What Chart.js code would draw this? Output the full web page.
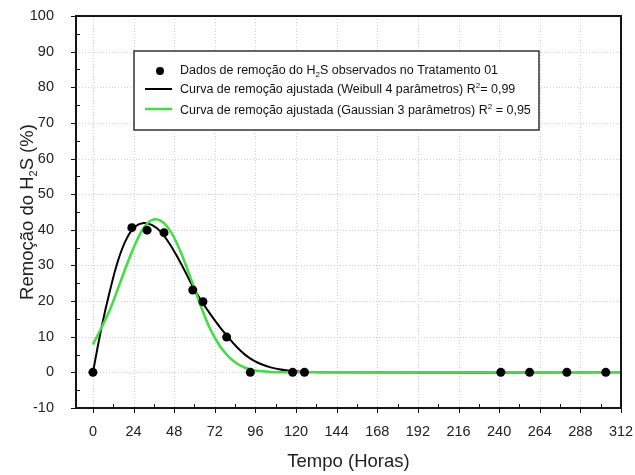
<!DOCTYPE html>
<html><head><meta charset="utf-8">
<script src="https://cdn.jsdelivr.net/npm/chart.js@4/dist/chart.umd.min.js"></script>
<style>html,body{margin:0;padding:0;background:#fff}#wrap{width:635px;height:475px;position:relative}</style>
</head><body><div id="wrap"><canvas id="c"></canvas></div>
<script>
// Observed data (Tratamento 01)
const obsTimes   = [0, 23, 32, 42, 59, 65, 79, 93, 118, 125, 241, 258, 280, 303];
const obsRemoval = [0, 40.6, 39.9, 39.2, 23.1, 19.8, 9.9, 0, 0, 0, 0, 0, 0, 0];

// Fitted curve: Weibull 4 parameters
const weibullTimes  = [0, 5, 10, 15, 20, 25, 30, 35, 40, 45, 50, 55, 60, 65, 70, 75, 80, 85, 90, 95, 100, 105, 110, 115, 120, 125, 130, 135, 140, 312];
const weibullValues = [0, 12.4, 22.8, 31.6, 37.6, 40.9, 41.9, 41.3, 39.5, 36.3, 32.3, 27.8, 23.2, 19.4, 15.9, 12.7, 9.8, 7.1, 4.9, 3.3, 2.2, 1.4, 0.85, 0.5, 0.28, 0.15, 0.07, 0.03, 0, 0];

// Fitted curve: Gaussian 3 parameters
const gaussTimes  = [0, 5, 10, 15, 20, 25, 30, 35, 40, 45, 50, 55, 60, 65, 70, 75, 80, 85, 90, 95, 100, 105, 110, 115, 120, 312];
const gaussValues = [7.8, 12.5, 17.6, 23.8, 30.2, 36.0, 40.6, 42.8, 42.6, 40.2, 35.8, 30.0, 23.5, 17.0, 11.5, 7.4, 4.5, 2.5, 1.3, 0.6, 0.3, 0.12, 0.05, 0.02, 0, 0];

const xTickValues = [0, 24, 48, 72, 96, 120, 144, 168, 192, 216, 240, 264, 288, 312];
const yTickValues = [-10, 0, 10, 20, 30, 40, 50, 60, 70, 80, 90, 100];
const xMinorValues = [12, 36, 60, 84, 108, 132, 156, 180, 204, 228, 252, 276, 300];
const yMinorValues = [-5, 5, 15, 25, 35, 45, 55, 65, 75, 85, 95];

const legendLabels = [
  [{t:'Dados de remoção do H'},{t:'2',sub:true},{t:'S observados no Tratamento 01'}],
  [{t:'Curva de remoção ajustada (Weibull 4 parâmetros) R'},{t:'2',sup:true},{t:'= 0,99'}],
  [{t:'Curva de remoção ajustada (Gaussian 3 parâmetros) R'},{t:'2',sup:true},{t:' = 0,95'}]
];
const yTitle = [{t:'Remoção do H'},{t:'2',sub:true},{t:'S (%)'}];
const xTitle = 'Tempo (Horas)';

const FONT = '"Liberation Sans", Arial, sans-serif';
const GREEN = 'rgb(64,222,64)';
Chart.defaults.font.family = FONT;

function pts(xs, ys){ return xs.map((x,i)=>({x:x, y:ys[i]})); }

function richWidth(ctx, parts, size){
  let w = 0;
  parts.forEach(p=>{ ctx.font = ((p.sub||p.sup)? Math.round(size*0.62):size)+'px '+FONT; w += ctx.measureText(p.t).width; });
  return w;
}
function drawRich(ctx, parts, x, y, size){
  ctx.textBaseline = 'middle'; ctx.textAlign = 'left';
  parts.forEach(p=>{
    let dy = 0, s = size;
    if (p.sub){ s = Math.round(size*0.62); dy = size*0.32; }
    if (p.sup){ s = Math.round(size*0.62); dy = -size*0.36; }
    ctx.font = s+'px '+FONT;
    ctx.fillText(p.t, x, y+dy);
    x += ctx.measureText(p.t).width;
  });
}

const decor = {
  id:'decor',
  beforeDatasetsDraw(chart){
    const {ctx, chartArea:a, scales:{x,y}} = chart;
    ctx.save();
    ctx.strokeStyle = '#cfcfcf'; ctx.lineWidth = 1; ctx.setLineDash([1,2]);
    xTickValues.forEach(v=>{ const px = Math.round(x.getPixelForValue(v))+0.5; ctx.beginPath(); ctx.moveTo(px,a.top); ctx.lineTo(px,a.bottom); ctx.stroke(); });
    yTickValues.forEach(v=>{ const py = Math.round(y.getPixelForValue(v))+0.5; ctx.beginPath(); ctx.moveTo(a.left,py); ctx.lineTo(a.right,py); ctx.stroke(); });
    ctx.restore();
  },
  afterDraw(chart){
    const {ctx, chartArea:a, scales:{x,y}} = chart;
    ctx.save();
    ctx.strokeStyle = '#111'; ctx.lineWidth = 1;
    xTickValues.forEach(v=>{ const px = Math.round(x.getPixelForValue(v))+0.5; ctx.beginPath(); ctx.moveTo(px,a.bottom); ctx.lineTo(px,a.bottom+5); ctx.stroke(); });
    yTickValues.forEach(v=>{ const py = Math.round(y.getPixelForValue(v))+0.5; ctx.beginPath(); ctx.moveTo(a.left-5,py); ctx.lineTo(a.left,py); ctx.stroke(); });
    xMinorValues.forEach(v=>{ const px = Math.round(x.getPixelForValue(v))+0.5; ctx.beginPath(); ctx.moveTo(px,a.bottom); ctx.lineTo(px,a.bottom-4); ctx.stroke(); });
    yMinorValues.forEach(v=>{ const py = Math.round(y.getPixelForValue(v))+0.5; ctx.beginPath(); ctx.moveTo(a.left,py); ctx.lineTo(a.left+4,py); ctx.stroke(); });
    ctx.lineWidth = 2; ctx.strokeStyle = '#151515';
    ctx.strokeRect(a.left, a.top, a.right-a.left, a.bottom-a.top);
    // legend
    const lx = a.left+58, ly = a.top+35, lw = 405, lh = 79;
    ctx.fillStyle = '#fff'; ctx.fillRect(lx, ly, lw, lh);
    ctx.lineWidth = 1.5; ctx.strokeStyle = '#333'; ctx.strokeRect(lx, ly, lw, lh);
    const rows = [ly+19, ly+38, ly+59];
    ctx.fillStyle = '#000';
    ctx.beginPath(); ctx.arc(lx+26, rows[0]+1, 4, 0, Math.PI*2); ctx.fill();
    ctx.lineWidth = 2; ctx.strokeStyle = '#000';
    ctx.beginPath(); ctx.moveTo(lx+11, rows[1]); ctx.lineTo(lx+38, rows[1]); ctx.stroke();
    ctx.lineWidth = 2.5; ctx.strokeStyle = GREEN;
    ctx.beginPath(); ctx.moveTo(lx+11, rows[2]-1); ctx.lineTo(lx+38, rows[2]-1); ctx.stroke();
    ctx.fillStyle = '#111';
    legendLabels.forEach((parts,i)=> drawRich(ctx, parts, lx+46, rows[i]+1, 12.5));
    // y title
    ctx.fillStyle = '#222';
    ctx.translate(28, (a.top+a.bottom)/2);
    ctx.rotate(-Math.PI/2);
    const w = richWidth(ctx, yTitle, 18.5);
    drawRich(ctx, yTitle, -w/2, 0, 18.5);
    ctx.restore();
  }
};

new Chart(document.getElementById('c'), {
  type:'scatter',
  data:{
    datasets:[
      {label:'obs', data:pts(obsTimes, obsRemoval), showLine:false, pointRadius:4.5, pointBackgroundColor:'#000', pointBorderColor:'#000', pointBorderWidth:0, order:0},
      {label:'gauss', data:pts(gaussTimes, gaussValues), showLine:true, pointRadius:0, borderColor:GREEN, borderWidth:2.5, tension:0.4, order:1},
      {label:'weibull', data:pts(weibullTimes, weibullValues), showLine:true, pointRadius:0, borderColor:'#000', borderWidth:2, tension:0.4, order:2}
    ]
  },
  options:{
    responsive:true, maintainAspectRatio:false, animation:false,
    layout:{padding:{left:14, top:16, right:14, bottom:0}},
    plugins:{legend:{display:false}, tooltip:{enabled:false}},
    scales:{
      x:{type:'linear', min:-10, max:312,
        afterBuildTicks(s){ s.ticks = xTickValues.map(v=>({value:v})); },
        afterFit(s){ s.height = 67; s.paddingLeft = 0; s.paddingRight = 0; },
        grid:{display:false}, border:{display:false},
        ticks:{color:'#222', font:{size:14.5}, padding:7, maxRotation:0, autoSkip:false},
        title:{display:true, text:xTitle, color:'#222', font:{size:18.5}, padding:{top:0, bottom:2}}
      },
      y:{type:'linear', min:-10, max:100,
        afterBuildTicks(s){ s.ticks = yTickValues.map(v=>({value:v})); },
        afterFit(s){ s.width = 62; s.paddingTop = 0; s.paddingBottom = 0; },
        grid:{display:false}, border:{display:false},
        ticks:{color:'#222', font:{size:14.5}, padding:14}
      }
    }
  },
  plugins:[decor]
});
</script></body></html>
